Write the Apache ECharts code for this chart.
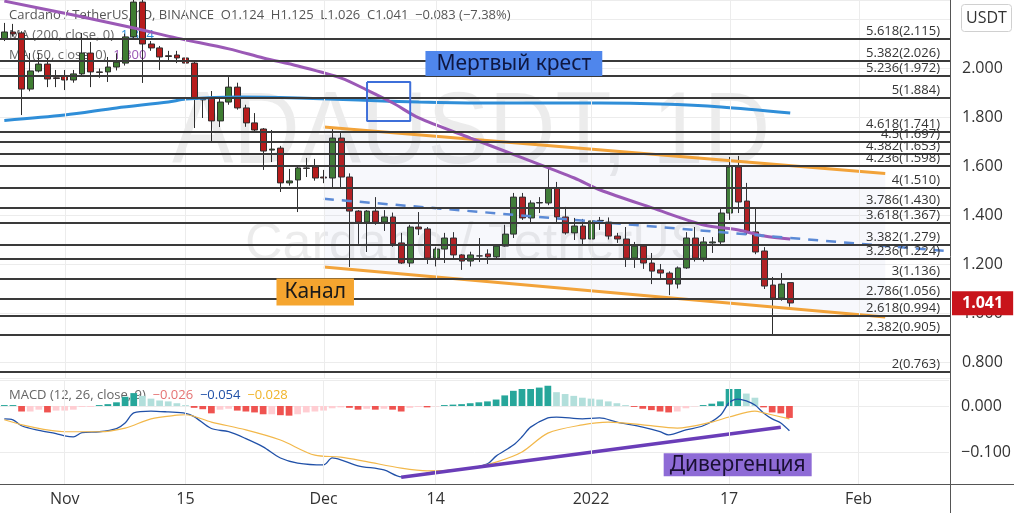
<!DOCTYPE html>
<html>
<head>
<meta charset="utf-8">
<title>ADAUSDT 1D</title>
<script src="https://cdn.jsdelivr.net/npm/echarts@6/dist/echarts.min.js"></script>
<style>
  html, body { margin: 0; padding: 0; background: #fff; }
  #chart { width: 1014px; height: 513px; }
</style>
</head>
<body>
<div id="chart"></div>
<script>
// ---- data ----
const startDate = '2021-10-25'; // first daily candle
const dayCount = 110;           // candles + empty space on the right

const opens  = [2.118,2.147,2.143,1.914,1.988,2.016,1.960,1.967,1.951,1.976,2.061,1.984,1.984,2.004,2.020,2.127,2.269,2.098,2.082,2.050,2.053,2.041,2.020,1.873,1.878,1.784,1.861,1.922,1.837,1.776,1.751,1.665,1.673,1.531,1.543,1.592,1.596,1.555,1.551,1.714,1.555,1.416,1.371,1.416,1.371,1.392,1.286,1.204,1.351,1.343,1.224,1.261,1.306,1.237,1.212,1.233,1.241,1.229,1.273,1.322,1.473,1.388,1.449,1.449,1.510,1.392,1.327,1.355,1.302,1.376,1.371,1.314,1.302,1.224,1.273,1.204,1.176,1.163,1.118,1.184,1.306,1.224,1.286,1.290,1.408,1.596,1.457,1.331,1.253,1.114,1.061,1.124];
const highs  = [2.184,2.180,2.150,2.061,2.061,2.041,1.992,1.992,1.992,2.143,2.106,1.998,2.045,2.060,2.140,2.310,2.310,2.110,2.090,2.070,2.070,2.070,2.030,1.880,1.906,1.880,1.963,1.940,1.850,1.816,1.755,1.747,1.682,1.588,1.600,1.633,1.629,1.584,1.755,1.735,1.570,1.420,1.420,1.473,1.420,1.410,1.327,1.360,1.412,1.351,1.270,1.327,1.330,1.240,1.250,1.306,1.260,1.280,1.360,1.490,1.490,1.460,1.473,1.592,1.535,1.433,1.388,1.384,1.396,1.392,1.390,1.327,1.351,1.290,1.280,1.245,1.200,1.170,1.190,1.330,1.351,1.310,1.310,1.430,1.637,1.641,1.531,1.429,1.269,1.147,1.163,1.125];
const lows   = [2.110,2.128,1.808,1.905,1.982,1.922,1.922,1.910,1.940,1.968,1.922,1.960,1.943,1.990,2.010,2.120,1.939,2.070,1.992,2.030,2.020,2.010,1.755,1.796,1.698,1.759,1.850,1.830,1.760,1.735,1.584,1.616,1.494,1.520,1.412,1.555,1.540,1.530,1.514,1.510,1.188,1.282,1.249,1.360,1.335,1.270,1.200,1.188,1.318,1.200,1.190,1.204,1.220,1.176,1.190,1.208,1.200,1.220,1.270,1.306,1.380,1.370,1.408,1.440,1.371,1.320,1.298,1.278,1.290,1.339,1.300,1.286,1.188,1.184,1.180,1.118,1.143,1.073,1.100,1.180,1.210,1.210,1.245,1.280,1.380,1.408,1.320,1.240,1.098,0.910,1.050,1.026];
const closes = [2.147,2.139,1.914,1.988,2.016,1.955,1.957,1.951,1.976,2.061,1.984,1.982,2.004,2.024,2.127,2.269,2.098,2.082,2.045,2.047,2.041,2.020,1.873,1.870,1.784,1.861,1.922,1.837,1.776,1.747,1.661,1.669,1.531,1.539,1.592,1.590,1.551,1.551,1.714,1.555,1.416,1.371,1.416,1.371,1.392,1.282,1.204,1.351,1.343,1.224,1.261,1.306,1.237,1.212,1.237,1.233,1.229,1.273,1.322,1.473,1.388,1.449,1.451,1.510,1.392,1.327,1.355,1.302,1.376,1.378,1.314,1.302,1.224,1.273,1.204,1.171,1.163,1.118,1.184,1.306,1.224,1.290,1.290,1.408,1.596,1.453,1.331,1.249,1.110,1.061,1.118,1.041];

// moving averages: [day index, value]
const ma200 = [[0,1.786],[7,1.808],[13,1.837],[19,1.861],[21,1.873],[27,1.882],[34,1.878],[41,1.869],[48,1.861],[55,1.857],[62,1.857],[69,1.857],[76,1.853],[83,1.841],[91,1.816]];
const ma50  = [[0,2.273],[8,2.216],[15,2.163],[20,2.122],[26,2.078],[30,2.041],[34,2.008],[39,1.959],[42,1.910],[45,1.857],[48,1.796],[54,1.714],[60,1.633],[66,1.551],[69,1.502],[75,1.429],[81,1.359],[85,1.339],[88,1.314],[91,1.302]];

// MACD (12, 26, close, 9)
const macdHist = [0.002,0.002,-0.012,-0.012,-0.008,-0.014,-0.010,-0.010,-0.008,-0.002,-0.002,0.002,0.004,0.008,0.020,0.028,0.022,0.016,0.012,0.010,0.006,0.002,-0.004,-0.007,-0.016,-0.008,-0.006,-0.010,-0.012,-0.014,-0.018,-0.018,-0.020,-0.021,-0.018,-0.014,-0.012,-0.010,-0.005,-0.003,-0.004,-0.008,-0.006,-0.008,-0.006,-0.008,-0.012,-0.004,-0.002,-0.003,-0.001,0.002,0.003,0.004,0.006,0.008,0.010,0.014,0.023,0.033,0.037,0.037,0.040,0.044,0.030,0.026,0.022,0.018,0.016,0.014,0.010,0.006,0.002,-0.002,-0.006,-0.009,-0.012,-0.014,-0.012,-0.005,-0.001,0.002,0.005,0.010,0.037,0.037,0.027,0.018,-0.003,-0.014,-0.016,-0.026];
const macdLine = [[0,-0.028],[1,-0.030],[2,-0.043],[4,-0.053],[6,-0.060],[7,-0.065],[8,-0.067],[9,-0.058],[11,-0.056],[13,-0.049],[14,-0.037],[15,-0.015],[17,-0.011],[19,-0.013],[21,-0.016],[22,-0.023],[24,-0.049],[26,-0.056],[28,-0.071],[30,-0.089],[32,-0.113],[34,-0.124],[37,-0.128],[38,-0.113],[39,-0.117],[41,-0.130],[44,-0.139],[46,-0.154],[48,-0.150],[50,-0.143],[54,-0.135],[56,-0.126],[57,-0.109],[59,-0.085],[60,-0.067],[61,-0.046],[63,-0.026],[64,-0.024],[67,-0.028],[69,-0.026],[71,-0.035],[74,-0.046],[76,-0.056],[77,-0.063],[79,-0.052],[81,-0.043],[83,-0.020],[84,0.007],[85,0.015],[86,0.011],[87,0.002],[88,-0.015],[89,-0.028],[90,-0.037],[91,-0.054]];
const signalLine = [[0,-0.030],[3,-0.045],[7,-0.056],[11,-0.056],[14,-0.048],[17,-0.028],[20,-0.020],[21,-0.019],[24,-0.035],[28,-0.052],[32,-0.074],[36,-0.107],[39,-0.111],[42,-0.121],[46,-0.135],[49,-0.141],[54,-0.135],[57,-0.122],[60,-0.100],[63,-0.059],[67,-0.041],[70,-0.035],[74,-0.041],[78,-0.048],[82,-0.035],[84,-0.024],[87,-0.011],[88,-0.015],[91,-0.028]];

// fibonacci extension levels
const fibRatios = ['5.618','5.382','5.236','5','4.618','4.5','4.382','4.236','4','3.786','3.618','3.382','3.236','3','2.786','2.618','2.382','2'];
const fibPrices = [2.115,2.026,1.972,1.884,1.741,1.697,1.653,1.598,1.510,1.430,1.367,1.279,1.224,1.136,1.056,0.994,0.905,0.763];

// drawings: channel, mid line, cross box, divergence
const channelIdx   = [37, 102];
const channelUpper = [1.759, 1.569];
const channelLower = [1.188, 0.984];
const midIdx   = [37, 109];
const midLine  = [1.466, 1.253];
const crossBoxIdx   = [42, 47];
const crossBoxPrice = [1.943, 1.784];
const divIdx = [46, 90];
const divVal = [-0.155, -0.046];

const lastPrice = 1.041;

// x axis ticks
const tickDates = ['2021-11-01','2021-11-15','2021-12-01','2021-12-14','2022-01-01','2022-01-17','2022-02-01'];
const tickTexts = ['Nov','15','Dec','14','2022','17','Feb'];

// ---- build ----
const dates = [];
(function () {
  const d0 = new Date(startDate + 'T00:00:00Z');
  for (let i = 0; i < dayCount; i++) {
    const d = new Date(d0.getTime() + i * 86400000);
    dates.push(d.toISOString().slice(0, 10));
  }
})();
const pair = (i, v) => [dates[i], v];

const candles = opens.map((o, i) => [o, closes[i], lows[i], highs[i]]);
const FONT = '"Open Sans", "Noto Sans", sans-serif';
const NOTE_FONT = '"Noto Sans", sans-serif';

const chart = echarts.init(document.getElementById('chart'));
chart.setOption({
  animation: false,
  backgroundColor: '#fff',
  grid: [
    { left: 0, right: 64, top: 0, height: 378 },
    { left: 0, right: 64, top: 380, height: 104 }
  ],
  xAxis: [
    { type: 'category', gridIndex: 0, data: dates, boundaryGap: true, show: false },
    {
      type: 'category', gridIndex: 1, data: dates, boundaryGap: true,
      axisLine: { show: false }, axisTick: { show: false }, splitLine: { show: false },
      axisLabel: {
        interval: (i, v) => tickDates.indexOf(v) >= 0,
        formatter: v => tickTexts[tickDates.indexOf(v)],
        color: '#333', fontSize: 16, fontFamily: FONT, margin: 7
      }
    }
  ],
  yAxis: [
    {
      type: 'value', gridIndex: 0, position: 'right',
      min: 0.73469, max: 2.27755, splitNumber: 8,
      axisLine: { show: false }, axisTick: { show: false },
      splitLine: { lineStyle: { color: '#ececec', width: 1 } },
      axisLabel: {
        showMinLabel: false, showMaxLabel: false,
        formatter: v => v.toFixed(3), color: '#333', fontSize: 16, fontFamily: FONT, margin: 12
      }
    },
    {
      type: 'value', gridIndex: 1, position: 'right',
      min: -0.1696, max: 0.0565, splitNumber: 2,
      axisLine: { show: false }, axisTick: { show: false },
      splitLine: { lineStyle: { color: '#ececec', width: 1 } },
      axisLabel: {
        showMinLabel: false, showMaxLabel: false,
        formatter: v => (Math.abs(v) < 1e-9 ? '0.000' : (v < 0 ? '−' : '') + Math.abs(v).toFixed(3)),
        color: '#333', fontSize: 16, fontFamily: FONT, margin: 12
      }
    }
  ],
  graphic: [
    // watermark
    { type: 'text', left: 172, top: 84, z: 0, silent: true, scaleY: 1.1,
      style: { text: 'ADAUSDT, 1D', fill: 'rgba(0,0,0,0.075)', fontSize: 92, fontFamily: '"Liberation Sans", sans-serif' } },
    { type: 'text', left: 245, top: 219, z: 0, silent: true,
      style: { text: 'Cardano / TetherUS', fill: 'rgba(0,0,0,0.075)', fontSize: 52, fontFamily: '"Liberation Sans", sans-serif' } },
    // legends
    { type: 'text', left: 9, top: 9, z: 1, silent: true,
      style: { text: 'Cardano / TetherUS, 1D, BINANCE  O1.124  H1.125  L1.026  C1.041  −0.083 (−7.38%)', fill: '#555', fontSize: 13, fontFamily: FONT } },
    { type: 'text', left: 9, top: 29, z: 1, silent: true,
      style: { text: '{g|MA (200, close, 0)}  {b|1.814}', fontSize: 13, fontFamily: FONT,
        rich: { g: { fill: '#666', fontSize: 13, fontFamily: FONT }, b: { fill: '#2f8ed8', fontSize: 13, fontFamily: FONT } } } },
    { type: 'text', left: 9, top: 49, z: 1, silent: true,
      style: { text: '{g|MA (50, close, 0)}  {p|1.300}', fontSize: 13, fontFamily: FONT,
        rich: { g: { fill: '#666', fontSize: 13, fontFamily: FONT }, p: { fill: '#9b59b6', fontSize: 13, fontFamily: FONT } } } },
    { type: 'text', left: 9, top: 389, z: 1, silent: true,
      style: { text: '{g|MACD (12, 26, close, 9)}  {r|−0.026}  {b|−0.054}  {o|−0.028}', fontSize: 13, fontFamily: FONT,
        rich: { g: { fill: '#666', fontSize: 13, fontFamily: FONT }, r: { fill: '#e57373', fontSize: 13, fontFamily: FONT },
                b: { fill: '#2151a8', fontSize: 13, fontFamily: FONT }, o: { fill: '#f0b429', fontSize: 13, fontFamily: FONT } } } },
    // frame
    { type: 'line', z: 50, silent: true, shape: { x1: 950.5, y1: 0, x2: 950.5, y2: 513 }, style: { stroke: '#555', lineWidth: 1 } },
    { type: 'line', z: 50, silent: true, shape: { x1: 0, y1: 484.5, x2: 1014, y2: 484.5 }, style: { stroke: '#555', lineWidth: 1 } },
    // currency badge (covers the 2.200 label like the original)
    { type: 'rect', z: 100, zlevel: 1, silent: true, shape: { x: 961.5, y: 4.5, width: 50, height: 27, r: 3 },
      style: { fill: '#fff', stroke: '#d0d0d0', lineWidth: 1 } },
    { type: 'text', z: 101, zlevel: 1, silent: true,
      style: { x: 986.5, y: 18, text: 'USDT', fill: '#333', fontSize: 16, fontFamily: FONT, align: 'center', verticalAlign: 'middle' } }
  ],
  series: [
    // vertical date grid lines (price pane)
    { type: 'line', xAxisIndex: 0, yAxisIndex: 0, data: [], z: 1, silent: true,
      markLine: { silent: true, symbol: ['none', 'none'], label: { show: false },
        lineStyle: { color: '#ececec', width: 1, type: 'solid' },
        data: tickDates.map(d => ({ xAxis: d })) } },
    // vertical date grid lines (MACD pane)
    { type: 'line', xAxisIndex: 1, yAxisIndex: 1, data: [], z: 1, silent: true,
      markLine: { silent: true, symbol: ['none', 'none'], label: { show: false },
        lineStyle: { color: '#ececec', width: 1, type: 'solid' },
        data: tickDates.map(d => ({ xAxis: d })) } },
    // channel: lower line + shaded band up to the upper line
    { name: 'channelLower', type: 'line', xAxisIndex: 0, yAxisIndex: 0, stack: 'ch', z: 4,
      data: channelIdx.map((d, i) => pair(d, channelLower[i])), symbol: 'none',
      lineStyle: { color: '#f2a33a', width: 3 } },
    { name: 'channelUpper', type: 'line', xAxisIndex: 0, yAxisIndex: 0, stack: 'ch', z: 4,
      data: channelIdx.map((d, i) => pair(d, channelUpper[i] - channelLower[i])), symbol: 'none',
      lineStyle: { color: '#f2a33a', width: 3 },
      areaStyle: { color: 'rgba(110,120,200,0.08)', origin: 'auto' } },
    // fibonacci levels + labels (annotation boxes attached here)
    { name: 'fib', type: 'line', xAxisIndex: 0, yAxisIndex: 0, data: [], z: 2,
      markLine: {
        silent: true, symbol: ['none', 'none'],
        lineStyle: { color: '#3a3a3a', width: 2, type: 'solid' },
        label: { show: true, position: 'insideEndTop', distance: [10, 1], color: '#333', fontSize: 13, fontFamily: FONT },
        data: fibPrices.map((p, i) => ({ yAxis: p, label: { formatter: fibRatios[i] + '(' + p.toFixed(3) + ')' } }))
      },
      markPoint: {
        silent: true, symbol: 'rect', symbolSize: 1, itemStyle: { color: 'rgba(0,0,0,0)' },
        data: [
          { coord: [dates[59], 2.018], label: { show: true, position: 'inside', formatter: 'Мертвый крест',
              backgroundColor: '#4f86ec', color: '#0f1740', fontSize: 21, fontFamily: NOTE_FONT, padding: [2, 11] } },
          { coord: [dates[36], 1.086], label: { show: true, position: 'inside', formatter: 'Канал',
              backgroundColor: '#f5a52f', color: '#1a1a1a', fontSize: 21, fontFamily: NOTE_FONT, padding: [3, 8] } }
        ]
      } },
    // candles
    { name: 'ADAUSDT', type: 'candlestick', xAxisIndex: 0, yAxisIndex: 0, data: candles, z: 3, barWidth: '74%',
      itemStyle: { color: '#3f7d32', color0: '#b71c1c', borderColor: '#2e2e2e', borderColor0: '#2e2e2e', borderWidth: 1 } },
    // last price tag on the price scale
    { name: 'lastPrice', type: 'line', xAxisIndex: 0, yAxisIndex: 0, data: [], z: 20,
      markLine: { silent: true, symbol: ['none', 'none'], lineStyle: { color: 'rgba(0,0,0,0)', width: 1 },
        label: { show: true, position: 'end', distance: 2, formatter: lastPrice.toFixed(3),
          backgroundColor: '#c8141b', color: '#fff', fontWeight: 'bold', fontSize: 16, fontFamily: FONT, padding: [4, 10] },
        data: [{ yAxis: lastPrice }] } },
    // moving averages
    { name: 'MA200', type: 'line', xAxisIndex: 0, yAxisIndex: 0, z: 4, smooth: 0.3, symbol: 'none',
      data: ma200.map(p => pair(p[0], p[1])), lineStyle: { color: '#2f8ed8', width: 3 } },
    { name: 'MA50', type: 'line', xAxisIndex: 0, yAxisIndex: 0, z: 4, smooth: 0.3, symbol: 'none',
      data: ma50.map(p => pair(p[0], p[1])), lineStyle: { color: '#9b59b6', width: 3 } },
    // dashed mid line of the channel
    { name: 'mid', type: 'line', xAxisIndex: 0, yAxisIndex: 0, z: 4, symbol: 'none',
      data: midIdx.map((d, i) => pair(d, midLine[i])), lineStyle: { color: '#5b8ad6', width: 2.5, type: [10, 8] } },
    // death-cross box
    { name: 'crossBox', type: 'line', xAxisIndex: 0, yAxisIndex: 0, z: 5, symbol: 'none',
      data: [pair(crossBoxIdx[0], crossBoxPrice[0]), pair(crossBoxIdx[1], crossBoxPrice[0]),
             pair(crossBoxIdx[1], crossBoxPrice[1]), pair(crossBoxIdx[0], crossBoxPrice[1]),
             pair(crossBoxIdx[0], crossBoxPrice[0])],
      lineStyle: { color: '#3e6fd9', width: 2 } },
    // MACD histogram
    { name: 'hist', type: 'bar', xAxisIndex: 1, yAxisIndex: 1, data: macdHist, barWidth: '78%', z: 2,
      itemStyle: { color: p => {
        const v = macdHist[p.dataIndex];
        const prev = p.dataIndex > 0 ? macdHist[p.dataIndex - 1] : 0;
        if (v >= 0) return v >= prev ? '#26a69a' : '#b2dfdb';
        return v < prev ? '#ef5350' : '#ffcdd2';
      } } },
    { name: 'MACD', type: 'line', xAxisIndex: 1, yAxisIndex: 1, z: 3, smooth: 0.3, symbol: 'none',
      data: macdLine.map(p => pair(p[0], p[1])), lineStyle: { color: '#2151a8', width: 1.3 } },
    { name: 'Signal', type: 'line', xAxisIndex: 1, yAxisIndex: 1, z: 3, smooth: 0.3, symbol: 'none',
      data: signalLine.map(p => pair(p[0], p[1])), lineStyle: { color: '#f2b84b', width: 1.2 } },
    // divergence line + label
    { name: 'divergence', type: 'line', xAxisIndex: 1, yAxisIndex: 1, z: 4, symbol: 'none',
      data: divIdx.map((d, i) => pair(d, divVal[i])), lineStyle: { color: '#6a3db8', width: 3.5 },
      markPoint: {
        silent: true, symbol: 'rect', symbolSize: 1, itemStyle: { color: 'rgba(0,0,0,0)' },
        data: [{ coord: [dates[85], -0.128], label: { show: true, position: 'inside', formatter: 'Дивергенция',
          backgroundColor: '#8e6bd6', color: '#1a1033', fontSize: 21, fontFamily: NOTE_FONT, padding: [1, 6] } }]
      } }
  ]
});
</script>
</body>
</html>
